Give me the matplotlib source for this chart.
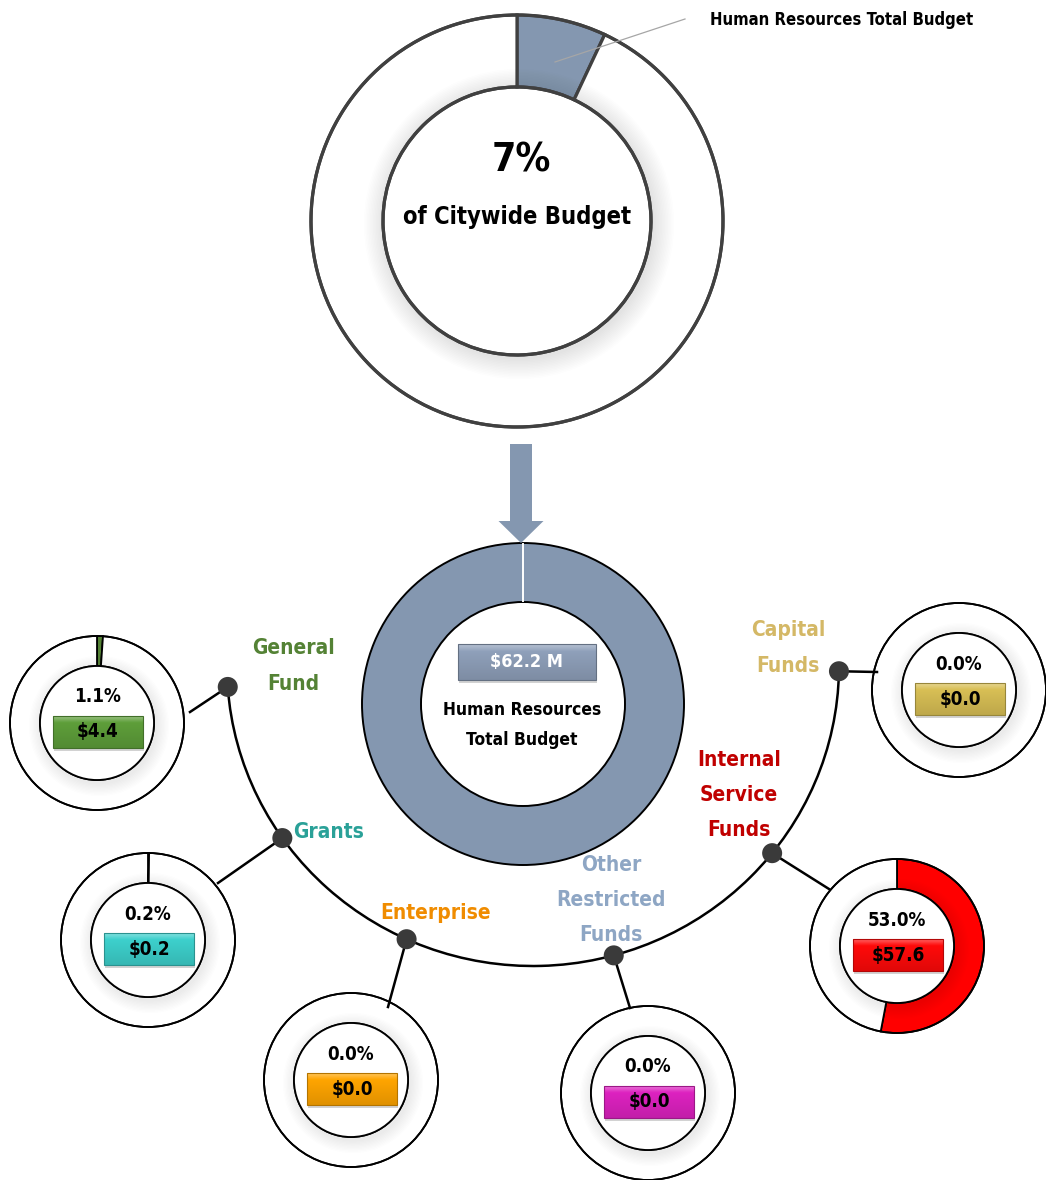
import os
import numpy as np
import matplotlib
matplotlib.use("Agg")
import matplotlib.pyplot as plt
import matplotlib.font_manager as fm
from matplotlib.patches import Wedge, Circle, Rectangle, Arc
from matplotlib.colors import to_rgb

# ---------------- data ----------------
citywide_share = [7, 93]            # % of citywide budget
total_budget = 62.2                 # $M
categories = ["General\nFund", "Grants", "Enterprise",
              "Other\nRestricted\nFunds", "Internal\nService\nFunds", "Capital\nFunds"]
pct_values = [1.1, 0.2, 0.0, 0.0, 53.0, 0.0]
amount_values = [4.4, 0.2, 0.0, 0.0, 57.6, 0.0]

# ---------------- styles / layout ----------------
label_colors = ['#548235', '#2AA198', '#F08C00', '#8EA6C4', '#C00000', '#D4B866']
wedge_colors = ['#548235', '#33CCCC', '#FFA500', '#E020C0', '#FF0000', '#D9BE55']
box_colors = ['#5E9E3A', '#3DD0CC', '#FFA500', '#DD22C0', '#FF0A0A', '#D8BF55']
donut_centers = [(97, 723), (148, 940), (351, 1080), (648, 1093), (897, 946), (959, 690)]
dot_angles = [176.0, 145, 114.4, 74.7, 38.6, 1.0]
leader_ends = [(190, 712), (218, 883), (388, 1007), (630, 1008), (829, 889), (877, 672)]
label_pos = [(252, 666, 'left'), (293, 832, 'left'), (380, 913, 'left'),
             (611, 900, 'center'), (739, 795, 'center'), (788, 648, 'center')]
BLUE = '#8497B0'


# ---------------- font: pick the narrowest bold face available ----------------
def pick_font():
    order = {'ultra-condensed': 0, 'extra-condensed': 1, 'condensed': 2, 'semi-condensed': 3}
    best, best_key = None, None
    for f in fm.fontManager.ttflist:
        base = os.path.basename(f.fname).lower()
        st = str(f.stretch).lower()
        rank = order.get(st)
        if rank is None:
            if 'extracondensed' in base:
                rank = 1
            elif 'semicondensed' in base:
                rank = 3
            elif 'condensed' in base or 'narrow' in base:
                rank = 2
            else:
                continue
        if 'italic' in base or 'oblique' in f.style:
            continue
        try:
            w = int(f.weight)
        except Exception:
            w = 700 if 'bold' in str(f.weight) else 400
        key = (rank, abs(w - 700), 0 if 'sans' in f.name.lower() else 1)
        if best_key is None or key < best_key:
            best, best_key = f, key
    return best, best_key


entry, key = pick_font()
if entry is not None:
    FP = fm.FontProperties(fname=entry.fname)
    SCALE = {0: 1.15, 1: 1.1, 2: 1.0, 3: 0.95}[key[0]]
else:
    FP = fm.FontProperties(family='DejaVu Sans', weight='bold')
    SCALE = 0.9


def T(x, y, s, size, **kw):
    return ax.text(x, y, s, fontproperties=FP, fontsize=size * SCALE, **kw)


W, H = 1046, 1180
fig = plt.figure(figsize=(W / 100, H / 100), dpi=100)
ax = fig.add_axes([0, 0, 1, 1])


def mix(c, other, t):
    c = np.array(to_rgb(c)); o = np.array(to_rgb(other))
    return tuple(c * (1 - t) + o * t)


def shade_ring(cx, cy, r_in, r_out, layers=12, step=1.3, alpha=0.013):
    ring = Wedge((cx, cy), r_out, 0, 360, width=r_out - r_in, fc='none', ec='none')
    ax.add_patch(ring)
    for k in range(layers):
        c = Circle((cx + 2, cy + 3), r_in + (k + 1) * step, fc='#555555', ec='none',
                   alpha=alpha, zorder=1.5)
        ax.add_patch(c)
        c.set_clip_path(ring)


def grad_box(cx, cy, w, h, base, text, tcolor, fs):
    x0, y0 = cx - w / 2, cy - h / 2
    ax.add_patch(Rectangle((x0 + 1, y0 + 3), w, h, fc='#808080', ec='none', alpha=0.35, zorder=4))
    n = 40
    rows = []
    for v in np.linspace(0, 1, n):
        if v < 0.2:
            rows.append(mix(base, 'white', 0.35 * (1 - v / 0.2)))
        else:
            rows.append(mix(base, 'black', 0.12 * (v - 0.2) / 0.8))
    img = np.array(rows).reshape(n, 1, 3)
    ax.imshow(img, extent=(x0, x0 + w, y0 + h, y0), origin='upper', aspect='auto',
              interpolation='bilinear', zorder=5)
    ax.add_patch(Rectangle((x0, y0), w, h, fc='none', ec=mix(base, 'black', 0.3), lw=0.8, zorder=5.5))
    T(cx, cy, text, fs, ha='center', va='center', color=tcolor, zorder=6)


# ---------------- top donut ----------------
tc = (517, 221)
ax.pie(citywide_share, colors=[BLUE, 'white'], startangle=-90, counterclock=True,
       radius=206, center=tc, frame=False,
       wedgeprops=dict(width=72, edgecolor='#404040', linewidth=2.3))
shade_ring(tc[0], tc[1], 134, 206, layers=14, step=1.5, alpha=0.011)
ax.add_patch(Circle(tc, 206, fc='none', ec='#404040', lw=2.3, zorder=2))
ax.add_patch(Circle(tc, 134, fc='none', ec='#404040', lw=2.3, zorder=2))
T(521, 160, f"{citywide_share[0]}%", 28, ha='center', va='center')
T(517, 217, "of Citywide Budget", 17, ha='center', va='center')
ax.plot([555, 685], [62, 19], color='#A6A6A6', lw=0.9, zorder=3)
T(710, 20, "Human Resources Total Budget", 12, ha='left', va='center')

# ---------------- arrow ----------------
ax.arrow(521, 444, 0, 99, width=22, head_width=45, head_length=22,
         length_includes_head=True, color=BLUE, ec='none', zorder=2)

# ---------------- central donut ----------------
cc = (523, 704)
ax.pie([total_budget], colors=[BLUE], startangle=-90, counterclock=True,
       radius=161, center=cc, frame=False,
       wedgeprops=dict(width=59, edgecolor='black', linewidth=1.4))
ax.plot([cc[0], cc[0]], [cc[1] - 160, cc[1] - 103], color='white', lw=1.4, zorder=3)
grad_box(527, 662, 138, 36, '#8FA0BA', f"${total_budget} M", 'white', 13)
T(522, 725, "Human Resources\nTotal Budget", 12.5, ha='center', va='center', linespacing=1.9)

# ---------------- arc with dots ----------------
acx, acy, arx, ary = 533, 666, 306, 300
ax.add_patch(Arc((acx, acy), 2 * arx, 2 * ary, theta1=min(dot_angles), theta2=max(dot_angles),
                 color='black', lw=1.8, zorder=2))

# ---------------- small donuts ----------------
for i in range(len(categories)):
    cx, cy = donut_centers[i]
    ang = np.deg2rad(dot_angles[i])
    dx, dy = acx + arx * np.cos(ang), acy + ary * np.sin(ang)
    ex, ey = leader_ends[i]
    ax.plot([dx, ex], [dy, ey], color='black', lw=1.8, zorder=2)
    ax.add_patch(Circle((dx, dy), 10, fc='#3A3A3A', ec='none', zorder=3))
    lx, ly, ha = label_pos[i]
    T(lx, ly, categories[i], 15, ha=ha, va='center', color=label_colors[i],
      linespacing=1.95, multialignment='center')

    p = pct_values[i]
    ax.pie([p, 100 - p], colors=[wedge_colors[i], 'white'], startangle=-90, counterclock=True,
           radius=87, center=(cx, cy), frame=False,
           wedgeprops=dict(width=30, edgecolor='black', linewidth=1.3))
    shade_ring(cx, cy, 57, 87, layers=10, step=1.3)
    ax.add_patch(Circle((cx, cy), 87, fc='none', ec='black', lw=1.3, zorder=2))
    ax.add_patch(Circle((cx, cy), 57, fc='white', ec='black', lw=1.3, zorder=2))
    T(cx, cy - 26, f"{p:.1f}%", 13.5, ha='center', va='center', zorder=6)
    grad_box(cx + 1, cy + 9, 90, 32, box_colors[i], f"${amount_values[i]:.1f}", 'black', 13.5)

ax.set_xlim(0, W)
ax.set_ylim(H, 0)
ax.set_aspect('equal')
ax.axis('off')
fig.savefig("out.png", dpi=100)
